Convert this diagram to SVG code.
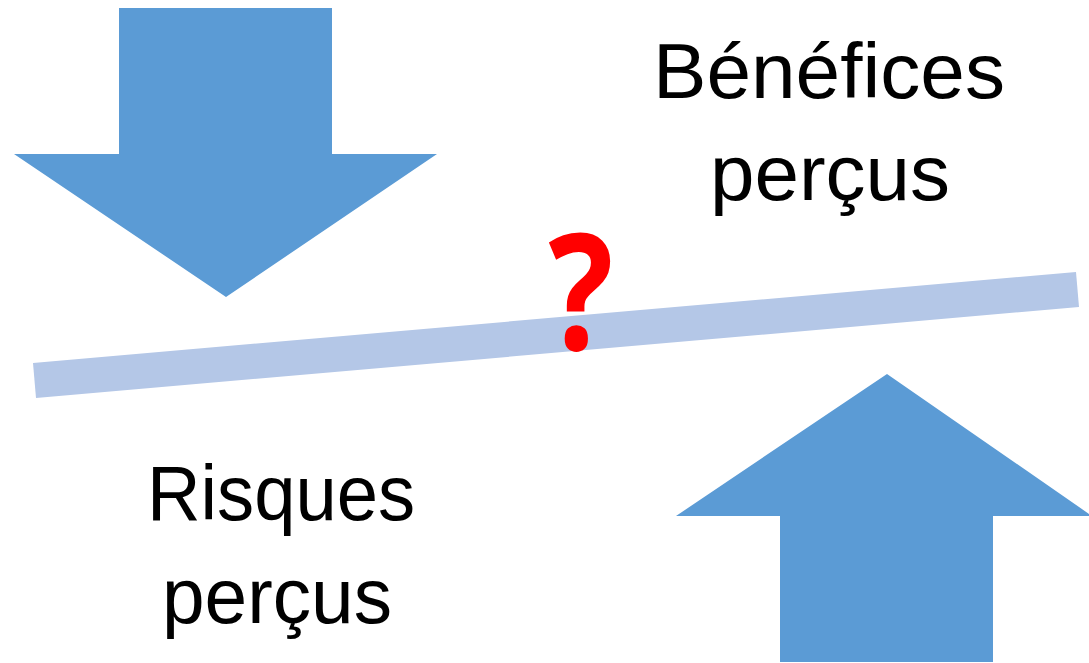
<svg xmlns="http://www.w3.org/2000/svg" width="1089" height="663" viewBox="0 0 1089 663">
<style>
.arrow{fill:#5B9BD5}
.bar{fill:#B4C7E7}
.lbl{font-family:"Liberation Sans",Arial,sans-serif;font-size:78px;fill:#000}
.q{font-family:"Open Sans","Liberation Sans",sans-serif;font-weight:bold;font-size:162px;fill:#FF0000}
</style>
<rect width="1089" height="663" fill="#fff"/>
<g id="arrow-down">
<polygon class="arrow" points="119,8 332,8 332,154 437,154 226,297 14,154 119,154"/>
</g>
<g id="arrow-up">
<polygon class="arrow" points="887,374 1092,516 993,516 993,662 780,662 780,516 676,516"/>
</g>
<g id="balance">
<polygon class="bar" points="33,363 1076,272 1079,307 36,398"/>
</g>
<g id="question">
<text class="q" x="581" y="350" text-anchor="middle" transform="translate(581,0) scale(0.84,1) translate(-581,0)">?</text>
</g>
<g id="benefices">
<text class="lbl" x="653" y="98" textLength="352" lengthAdjust="spacingAndGlyphs">Bénéfices</text>
<text class="lbl" x="710" y="200" textLength="240" lengthAdjust="spacingAndGlyphs">perçus</text>
</g>
<g id="risques">
<text class="lbl" x="147" y="520" textLength="268" lengthAdjust="spacingAndGlyphs">Risques</text>
<text class="lbl" x="162" y="623" textLength="230" lengthAdjust="spacingAndGlyphs">perçus</text>
</g>
<g id="connectors"></g>
</svg>
